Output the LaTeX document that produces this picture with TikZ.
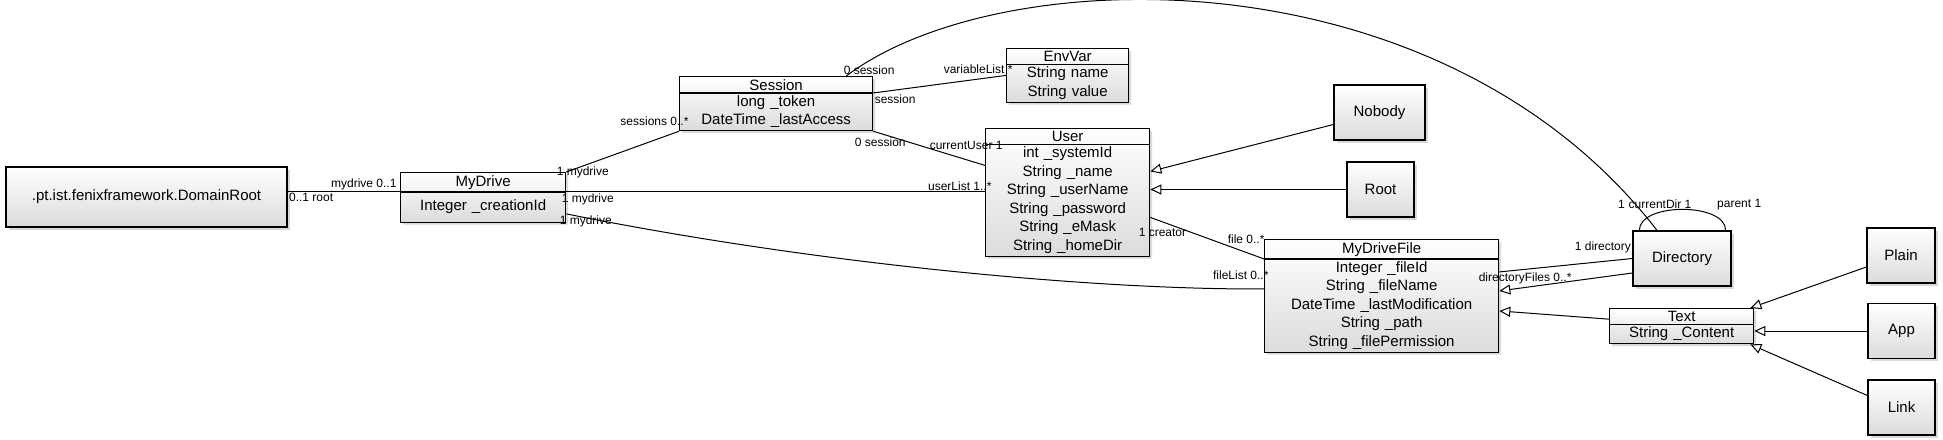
\documentclass[tikz,border=0pt]{standalone}
\usepackage{fontspec}
\setmainfont{Liberation Sans}
\usetikzlibrary{positioning, calc, shapes, shapes.multipart, shadows, arrows.meta}
\newcommand{\clsfont}{\fontsize{15}{18.5}\selectfont}
\newcommand{\lblfont}{\fontsize{12}{14}\selectfont}
\tikzset{dbox/.style={draw, line width=1.3pt, top color=white, bottom color=black!14, drop shadow={opacity=0.3, shadow xshift=2.5pt, shadow yshift=-2.5pt}, font=\clsfont, align=center, inner sep=0pt}}
\tikzset{dclass/.style={dbox, rectangle split, rectangle split parts=2, text width=#1, inner xsep=3pt, inner ysep=2pt, anchor=north west}}
\tikzset{dsimple/.style 2 args={dbox, minimum width=#1, minimum height=#2}}
\tikzset{assoc/.style={draw, line width=1pt}}
\tikzset{inh/.style={assoc, -{Triangle[open, length=11pt, width=10pt, line width=1pt]}}}
\tikzset{lbl/.style={font=\lblfont, inner sep=1pt}}

\begin{document}
\begin{tikzpicture}[x=1pt, y=-1pt]
    \useasboundingbox (0,0) rectangle (1943,439);
        \node[dsimple={281pt}{60pt}] (dom) at (146.5,197) {.pt.ist.fenixframework.DomainRoot};
        \node[dclass=159pt] (drive) at (400,172) {MyDrive \nodepart{two} \rule[-9pt]{0pt}{25pt}Integer \_creationId};
        \node[dclass=187pt] (session) at (679,76) {Session \nodepart{two} long \_token\\ DateTime \_lastAccess};
        \node[dclass=116pt] (envvar) at (1006,48) {EnvVar \nodepart{two} String name\\ String value};
        \node[dclass=158pt] (user) at (985,128) {User \nodepart{two} int \_systemId\\ String \_name\\ String \_userName\\ String \_password\\ String \_eMask\\ String \_homeDir};
        \node[dsimple={91pt}{55pt}] (nobody) at (1379.5,112.5) {Nobody};
        \node[dsimple={67pt}{55pt}] (rootuser) at (1380.5,189.5) {Root};
        \node[dclass=228pt] (file) at (1264,239) {MyDriveFile \nodepart{two} Integer \_fileId\\ String \_fileName\\ DateTime \_lastModification\\ String \_path\\ String \_filePermission};
        \node[dsimple={98pt}{55pt}] (dir) at (1682,258.5) {Directory};
        \node[dclass=138pt] (text) at (1609,308) {Text \nodepart{two} String \_Content};
        \node[dsimple={68pt}{55pt}] (plain) at (1901,255.5) {Plain};
        \node[dsimple={67pt}{55pt}] (app) at (1901.5,331) {App};
        \node[dsimple={67pt}{55pt}] (link) at (1901.5,407.5) {Link};

        % associations
        \draw[assoc] (dom.east |- drive.text split west) -- node[lbl, pos=0, anchor=north west]{0..1 root}
            node[lbl, pos=1, anchor=south east, xshift=-2pt]{mydrive 0..1} (drive.text split west);
        \draw[assoc] (drive.text split east) -- node[lbl, pos=0, anchor=north west, xshift=-6pt]{1 mydrive}
            node[lbl, pos=1, anchor=south east, xshift=8pt]{userList 1..*} (drive.text split east -| user.west);
        \draw[assoc] (drive.north east) -- node[lbl, pos=0, anchor=west, xshift=-11pt]{1 mydrive}
            node[lbl, pos=1, anchor=east, xshift=11pt, yshift=10pt]{sessions 0..*} (session.south west);
        \draw[assoc] ($(drive.south east)+(0,-9)$) .. controls (820,265) and (1100,290) ..
            node[lbl, pos=0, anchor=north west, xshift=-8pt]{1 mydrive}
            node[lbl, pos=1, anchor=east, xshift=6pt, yshift=14pt]{fileList 0..*} ($(file.west)+(0,-7)$);
        \draw[assoc] (session.text split east) -- node[lbl, pos=0, anchor=north west]{session}
            node[lbl, pos=1, anchor=south east, xshift=8pt]{variableList *} (envvar.west);
        \draw[assoc] (session.south east) -- node[lbl, pos=0, xshift=7pt, yshift=-11pt]{0 session}
            node[lbl, pos=1, anchor=east, xshift=19pt, yshift=20pt]{currentUser 1} ($(user.west)+(0,-27)$);
        \draw[assoc] ($(session.north east)+(-27,0)$) .. controls (1000,-40) and (1440,-50) ..
            node[lbl, pos=0, anchor=south west, xshift=-4pt]{0 session}
            node[lbl, pos=1, xshift=3pt, yshift=26pt]{currentDir 1} ($(dir.north)+(-25,0)$);
        \draw[assoc] ($(user.east)+(0,25)$) -- node[lbl, pos=0, anchor=west, xshift=-13pt, yshift=-15pt]{1 creator}
            node[lbl, pos=1, anchor=east, xshift=2pt, yshift=20pt]{file 0..*} (file.text split west);
        \draw[assoc] (dir.west) -- node[lbl, pos=0, anchor=east, yshift=11pt]{1 directory}
            node[lbl, pos=1, anchor=west, xshift=-22pt, yshift=-6pt]{directoryFiles 0..*} ($(file.east)+(0,-24)$);
        \draw[assoc] ($(dir.north west)+(7,0)$) .. controls +(0,-28) and +(0,-28) ..
            node[lbl, pos=0, xshift=-18pt, yshift=26pt]{1}
            node[lbl, pos=1, anchor=west, xshift=-10pt, yshift=26pt]{parent 1} ($(dir.north east)+(-6,0)$);

        % generalizations
        \draw[inh] ($(nobody.west)+(0,12)$) -- ($(user.east)+(0,-21)$);
        \draw[inh] (rootuser.west) -- (rootuser.west -| user.east);
        \draw[inh] ($(dir.west)+(0,14.5)$) -- ($(file.east)+(0,-5)$);
        \draw[inh] ($(text.west)+(0,-7)$) -- ($(file.east)+(0,15)$);
        \draw[inh] ($(plain.west)+(0,11.5)$) -- ($(text.north east)+(-4,0)$);
        \draw[inh] (app.west) -- (app.west -| text.east);
        \draw[inh] ($(link.west)+(0,-12)$) -- ($(text.south east)+(-4,0)$);
\end{tikzpicture}
\end{document}
